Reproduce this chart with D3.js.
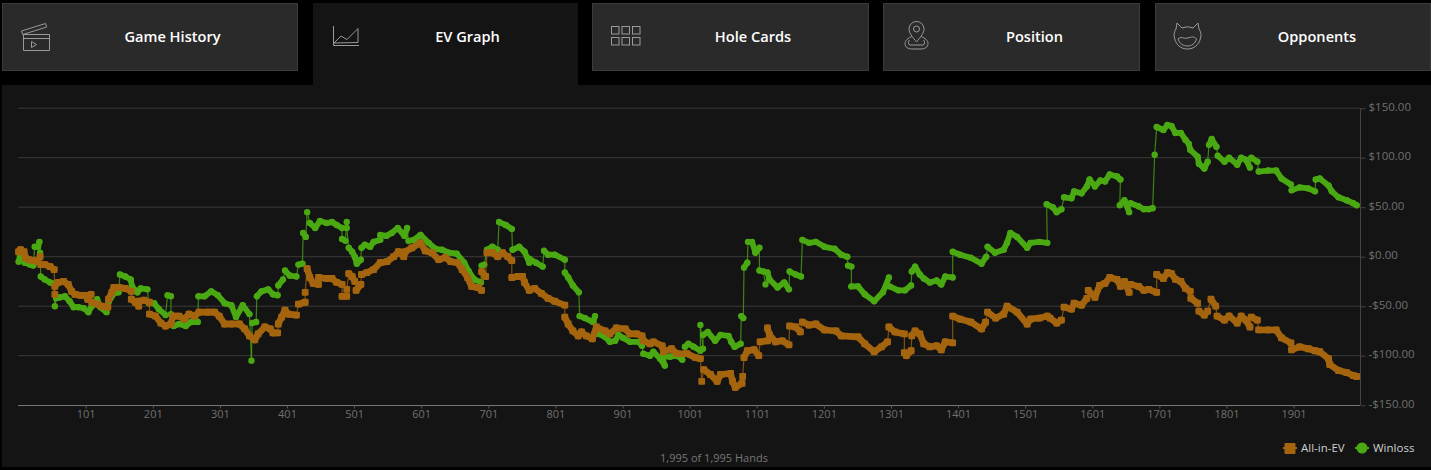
<!DOCTYPE html>
<html><head><meta charset="utf-8">
<script src="https://cdn.jsdelivr.net/npm/d3@7"></script>
<style>html,body{margin:0;padding:0;background:#000;overflow:hidden}svg{display:block}text{font-family:"Open Sans",sans-serif}</style>
</head><body><svg id="c" width="1431" height="470"></svg>
<script>
const tabNames=["Game History","EV Graph","Hole Cards","Position","Opponents"];
const yTicks=[150,100,50,0,-50,-100,-150];
const xTicks=[101,201,301,401,501,601,701,801,901,1001,1101,1201,1301,1401,1501,1601,1701,1801,1901];
const seriesNames=["All-in-EV","Winloss"];
const evHands=[1,4,9,11,16,23,29,33,34,40,48,54,55,55,60,68,75,80,85,93,100,104,109,110,118,125,134,135,140,143,150,160,169,169,175,180,180,188,196,196,205,213,220,228,231,240,248,255,263,270,283,293,300,308,318,330,338,345,353,358,368,376,380,387,388,393,398,403,415,418,428,428,431,435,440,448,448,460,468,475,483,483,490,490,493,498,
502,504,511,512,520,530,540,550,560,567,575,577,587,600,607,617,627,637,645,655,662,670,676,685,691,691,697,699,707,715,722,730,736,736,745,752,755,762,770,780,790,800,815,815,820,827,835,840,847,856,862,875,882,892,905,912,922,930,932,942,947,960,962,974,982,997,1010,1017,1019,1022,1032,1042,1047,1062,1065,1069,1079,1080,1082,1087,1097,1104,1106,1117,1117,1120,1129,1139,1149,1150,1159,1166,1169,1179,1189,1202,1219,1227,1252,1262,1276,1287,1296,1298,1307,1321,1321,1324,1331,1332,1337,1344,1350,1359,1369,1376,1382,1393,1393,1404,1420,1436,1442,1445,1457,1469,1474,1489,1504,1509,1522,1534,1538,1548,1555,1559,1570,1574,1585,1593,1595,1605,1612,1620,1627,1638,1643,1649,1656,1658,1670,1678,1685,1697,1697,1707,1713,1719,1725,1733,1740,1747,1748,1758,1760,1768,1773,1778,1785,1787,1798,1805,1817,1823,1830,1836,1838,1847,1849,1863,1875,1883,1897,1898,1910,1923,1933,1940,1953,1955,1968,1980,1990,1995];
const evValues=[5,7,5,-1,-3,-4,-5,0,-8,-8,-10,-13,-38,-30,-26,-25,-28,-35,-38,-39,-39,-43,-38,-46,-48,-50,-51,-43,-36,-31,-31,-32,-35,-43,-46,-50,-45,-44,-46,-58,-60,-67,-70,-68,-60,-60,-63,-58,-60,-56,-56,-56,-60,-68,-68,-68,-73,-80,-84,-78,-71,-73,-77,-77,-68,-61,-54,-58,-59,-48,-46,-36,-12,-21,-27,-28,-21,-22,-22,-26,-28,-40,-40,-33,-17,-20,
-25,-34,-28,-18,-16,-13,-6,-5,0,5,0,5,9,14,6,4,-3,-1,-5,-6,-13,-21,-30,-31,-34,-15,-20,4,4,0,4,0,-4,-21,-20,-20,-26,-34,-32,-37,-42,-45,-49,-61,-68,-75,-80,-76,-80,-83,-71,-75,-78,-72,-73,-78,-78,-80,-85,-88,-86,-90,-96,-93,-98,-98,-102,-103,-126,-114,-119,-126,-119,-118,-126,-132,-128,-121,-102,-95,-94,-100,-86,-85,-72,-79,-86,-85,-89,-70,-71,-76,-66,-69,-68,-74,-75,-80,-81,-88,-96,-91,-86,-71,-76,-78,-97,-100,-95,-80,-75,-78,-88,-91,-90,-94,-86,-87,-60,-63,-66,-73,-66,-56,-62,-58,-50,-56,-68,-63,-62,-60,-62,-67,-64,-51,-53,-47,-49,-42,-34,-41,-29,-27,-21,-23,-30,-25,-36,-28,-30,-34,-33,-36,-18,-22,-16,-17,-23,-25,-32,-35,-42,-47,-55,-59,-55,-43,-50,-60,-64,-60,-67,-60,-64,-71,-61,-64,-74,-74,-74,-82,-87,-94,-91,-93,-95,-96,-103,-109,-115,-117,-120,-121];
const wlHands=[1,3,5,10,18,23,25,30,32,33,34,40,48,53,55,57,63,70,77,83,90,98,105,110,118,123,132,135,143,150,152,160,168,170,178,183,193,195,203,210,220,223,228,228,232,240,250,258,268,269,278,288,298,308,318,325,335,345,348,349,355,356,363,373,380,387,388,395,398,405,415,418,424,425,429,431,435,443,450,460,468,475,483,483,488,490,490,493,498,
502,505,511,512,517,525,530,540,540,549,557,566,576,580,582,590,600,612,622,632,642,654,665,672,680,690,691,695,699,707,715,717,727,736,737,747,755,762,762,772,782,784,790,800,815,815,820,827,836,837,845,857,860,865,875,882,890,895,902,912,925,930,932,942,947,957,964,960,972,982,990,994,999,1007,1017,1017,1021,1021,1028,1039,1047,1059,1063,1068,1077,1078,1081,1082,1087,1088,1094,1099,1105,1105,1111,1114,1117,1120,1132,1142,1149,1150,1159,1167,1169,1179,1189,1202,1217,1227,1236,1237,1242,1242,1252,1262,1276,1289,1298,1299,1312,1322,1331,1332,1337,1344,1350,1359,1369,1376,1382,1393,1393,1404,1420,1436,1443,1445,1456,1469,1474,1479,1489,1504,1509,1522,1534,1533,1542,1548,1555,1559,1570,1574,1585,1593,1597,1605,1613,1620,1627,1638,1643,1642,1649,1656,1658,1670,1678,1685,1691,1694,1697,1707,1713,1719,1725,1733,1740,1745,1747,1758,1760,1768,1773,1775,1779,1786,1788,1798,1805,1817,1823,1830,1836,1838,1847,1849,1863,1875,1883,1897,1898,1910,1923,1933,1934,1940,1953,1958,1968,1980,1990,1995];
const wlValues=[-5,0,0,-6,-8,-9,10,10,15,4,-20,-23,-26,-27,-50,-42,-41,-40,-45,-51,-51,-52,-56,-50,-43,-51,-56,-46,-37,-36,-18,-20,-23,-30,-36,-32,-33,-47,-47,-53,-59,-39,-40,-58,-70,-68,-70,-66,-66,-40,-40,-35,-39,-47,-49,-61,-49,-58,-105,-67,-66,-40,-35,-33,-38,-39,-29,-23,-14,-19,-20,-8,-7,24,20,45,34,29,36,34,35,32,29,18,16,35,29,9,5,
0,-7,-3,9,12,10,15,17,22,21,24,29,21,29,16,17,22,14,8,7,4,3,-6,-15,-23,-26,-9,-8,7,10,7,35,32,28,7,10,5,-6,-2,-6,-10,6,2,2,-3,-16,-21,-29,-36,-60,-62,-66,-60,-78,-81,-86,-85,-79,-82,-86,-86,-90,-98,-100,-96,-103,-110,-101,-101,-100,-104,-91,-88,-91,-95,-69,-93,-79,-76,-85,-79,-80,-86,-91,-88,-60,-62,-11,-6,15,15,4,9,-14,-15,-28,-16,-23,-31,-26,-33,-15,-18,-20,17,14,15,10,8,2,0,-9,-10,-30,-30,-38,-45,-36,-21,-30,-34,-34,-29,-15,-10,-18,-22,-26,-24,-28,-20,-21,5,2,-1,-7,0,10,4,7,14,24,20,9,14,15,14,53,50,45,48,60,59,66,64,71,78,71,77,76,83,81,78,52,57,45,54,51,48,48,49,103,131,128,133,132,125,125,118,114,108,101,94,89,96,113,119,111,102,96,100,93,100,98,90,100,96,86,87,87,79,73,67,70,69,66,78,79,72,66,60,57,54,52];

const svg=d3.select("#c");
const tabX=[[2,298],[313,578],[592,869],[883,1140],[1155,1431]];
const tabLabelX=[172.5,467.5,753,1034.5,1317];
const active=1;
svg.append("rect").attr("x",2).attr("y",85).attr("width",1429).attr("height",382).attr("fill","#141414");
tabNames.forEach((n,i)=>{
  const [a,b]=tabX[i];
  svg.append("rect").attr("x",a+.5).attr("y",3.5).attr("width",b-a-1).attr("height",i===active?82:67)
   .attr("fill",i===active?"#141414":"#2a2a2a").attr("stroke",i===active?"#141414":"#3b3b3b");
  svg.append("text").attr("x",tabLabelX[i]).attr("y",42).attr("text-anchor","middle")
   .attr("font-size",14.6).attr("font-weight",600).attr("fill","#fff").text(n);
});
// tab icons
const ic=svg.append("g").attr("fill","none").attr("stroke","#9a9a9a").attr("stroke-width",1);
ic.append("path").attr("d","M23.500 34.500h26v16h-26zM23.500 38.500h26M21.500 31l24-7.500 1.200 3.500-24 7.500zM31.500 41.500l5 3-5 3z");
ic.append("path").attr("d","M333.500 26v19.500h25.500M334 43l7-7 6 3.500 11-11v14z");
d3.range(3).forEach(c=>d3.range(2).forEach(r=>ic.append("rect").attr("x",611.5+c*10.5).attr("y",26.5+r*11).attr("width",7.5).attr("height",7.5)));
ic.append("path").attr("d","M916.500 42c-4-5-7.500-9-7.500-13a7.500 7.500 0 0 1 15 0c0 4-3.500 8-7.500 13zM912 36.500c-4 1.500-7 4-7 7 0 3.500 3 5.500 7 5.500h9c4 0 7-2 7-5.500 0-3-3-5.500-7-7M909.500 40c-1.500 1-1.500 5 .5 5h13c2 0 2-4 .5-5");
ic.append("circle").attr("cx",916.5).attr("cy",29).attr("r",3);
ic.append("path").attr("d","M1177 23l-1 6c-2 3-2.500 6-1.500 9 1.500 7 6.500 11 13 11s11.500-4 13-11c1-3 .5-6-1.500-9l-1-6-5 5a13 13 0 0 0-11 0zM1178 39c3-3 5 0 9.500-1s6.500-2 9 1c-1.500 5-5 7-9 7s-8-2-9.500-7z");

const x=d3.scaleLinear().domain([1,2000]).range([18.6,1360]);
const y=d3.scaleLinear().domain([-150,150]).range([405.2,108.2]);
const fmt=v=>(v<0?"-$":"$")+Math.abs(v).toFixed(2);

// grid + axes
const gridG=svg.append("g").attr("stroke","#3a3a3a").attr("stroke-width",1);
yTicks.filter(v=>v!==-150).forEach(v=>gridG.append("line").attr("x1",18).attr("x2",1360).attr("y1",y(v)).attr("y2",y(v)));
const yAxis=svg.append("g").attr("transform","translate(1360.5,0)").call(d3.axisRight(y).tickValues(yTicks).tickFormat(fmt).tickSize(5).tickPadding(3));
yAxis.select(".domain").attr("stroke","#444").attr("d","M0,108V405");
yAxis.selectAll("line").attr("stroke","#444");
yAxis.selectAll("text").attr("fill","#707070").attr("font-size",11.5).attr("font-family","Open Sans").attr("dy","0.16em");
const xAxis=svg.append("g").attr("transform","translate(0,405.5)").call(d3.axisBottom(x).tickValues(xTicks).tickFormat(d3.format("d")).tickSize(3).tickPadding(2));
xAxis.select(".domain").attr("stroke","#777").attr("d","M18,0H1360");
xAxis.selectAll("line").attr("stroke","#555");
xAxis.selectAll("text").attr("fill","#707070").attr("font-size",11).attr("font-family","Open Sans");

// series
const line=d3.line().x(d=>x(d[0])).y(d=>y(d[1]));
function drawSeries(hands,vals,color,square){
  const pts=hands.map((h,i)=>[h,vals[i]]);
  const g=svg.append("g");
  const segs=d3.pairs(pts);
  const isRun=([a,b])=>Math.abs(y(a[1])-y(b[1]))<=Math.abs(x(a[0])-x(b[0]))*2.2+4;
  g.selectAll(".j").data(segs.filter(s=>!isRun(s))).join("path").attr("d",line).attr("fill","none").attr("stroke",color).attr("stroke-opacity",.75).attr("stroke-width",1.2);
  g.selectAll(".r").data(segs.filter(isRun)).join("path").attr("d",line).attr("fill","none").attr("stroke",color).attr("stroke-linecap","round").attr("stroke-width",square?6.6:5.8);
  if(square) g.selectAll("rect").data(pts).join("rect").attr("x",d=>x(d[0])-3.4).attr("y",d=>y(d[1])-3.4).attr("width",6.8).attr("height",6.8).attr("rx",1).attr("fill",color);
  else g.selectAll("circle").data(pts).join("circle").attr("cx",d=>x(d[0])).attr("cy",d=>y(d[1])).attr("r",3.2).attr("fill",color);
}
drawSeries(wlHands,wlValues,"#4aa912",false);
drawSeries(evHands,evValues,"#a5640e",true);

// legend + footer
const lg=svg.append("g");
lg.append("line").attr("x1",1283).attr("x2",1297).attr("y1",448).attr("y2",448).attr("stroke","#a5640e").attr("stroke-width",2);
lg.append("rect").attr("x",1284.5).attr("y",443).attr("width",11).attr("height",11).attr("rx",1).attr("fill","#a5640e");
lg.append("text").attr("x",1301).attr("y",452).attr("font-size",11.5).attr("fill","#d0d0d0").text(seriesNames[0]);
lg.append("line").attr("x1",1355).attr("x2",1369).attr("y1",448).attr("y2",448).attr("stroke","#4aa912").attr("stroke-width",2);
lg.append("circle").attr("cx",1362).attr("cy",448).attr("r",5.5).attr("fill","#4aa912");
lg.append("text").attr("x",1373).attr("y",452).attr("font-size",11.5).attr("fill","#d0d0d0").text(seriesNames[1]);
svg.append("text").attr("x",714).attr("y",462).attr("text-anchor","middle").attr("font-size",11).attr("fill","#777").text("1,995 of 1,995 Hands");
</script></body></html>
